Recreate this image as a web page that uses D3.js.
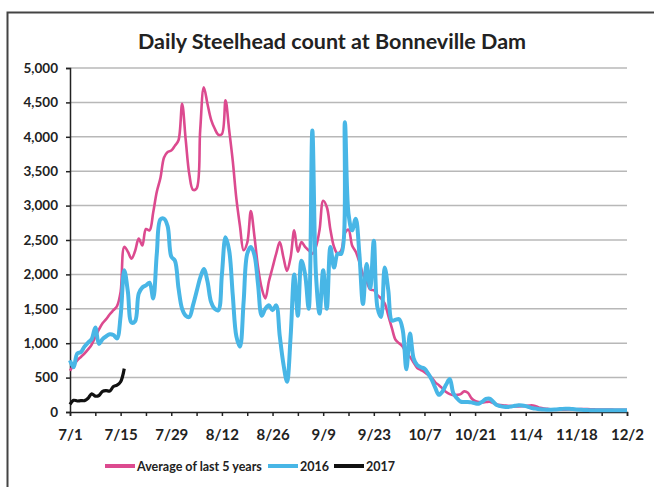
<!DOCTYPE html>
<html>
<head>
<meta charset="utf-8">
<script src="https://cdn.jsdelivr.net/npm/d3@7"></script>
<style>
  body { margin: 0; background: #fff; }
  svg text { font-family: Lato, "Open Sans", sans-serif; font-weight: bold; fill: #222; }
</style>
</head>
<body>
<div id="chart"></div>
<script>
// daily counts, day 0 = 7/1
var avg5 = [600, 680, 750, 800, 850, 910, 980, 1090, 1200, 1290,
  1350, 1420, 1480, 1540, 1750, 2400, 2330, 2230, 2340, 2520,
  2420, 2660, 2640, 2900, 3200, 3400, 3700, 3780, 3800, 3870,
  3950, 4480, 3950, 3450, 3230, 3250, 4100, 4720, 4480, 4250,
  4120, 4030, 4040, 4530, 4100, 3650, 3100, 2700, 2350, 2460,
  2920, 2550, 2100, 1800, 1650, 1900, 2100, 2300, 2470, 2250,
  2050, 2250, 2640, 2330, 2470, 2400, 2350, 2300, 2400, 2650,
  3070, 2980, 2650, 2400, 2300, 2350, 2600, 2650, 2420, 2330,
  2180, 2000, 1900, 1780, 1770, 1700, 1650, 1580, 1400, 1220,
  1050, 1000, 950, 850, 800, 720, 640, 610, 580, 540,
  500, 430, 390, 340, 290, 260, 245, 250, 260, 300,
  280, 200, 160, 145, 140, 145, 150, 130, 110, 100,
  95, 90, 85, 80, 82, 85, 90, 95, 95, 80,
  60, 50, 45, 40, 38, 36, 35, 35, 36, 38,
  40, 42, 44, 42, 40, 38, 36, 35, 34, 34,
  34, 33, 33, 32, 32];

var y2016 = [750, 650, 850, 870, 950, 1010, 1060, 1230, 990, 1060,
  1100, 1130, 1120, 1070, 1400, 2060, 1750, 1300, 1320, 1720,
  1810, 1840, 1880, 1650, 2300, 2800, 2810, 2700, 2260, 2200,
  1800, 1500, 1400, 1380, 1550, 1750, 1950, 2080, 1900, 1600,
  1500, 1480, 2000, 2540, 2350, 1700, 1100, 950, 1600, 2300,
  2400, 2280, 1850, 1400, 1500, 1550, 1480, 1550, 1100, 700,
  440, 1100, 2000, 1400, 2200, 2000, 1500, 4090, 2000, 1430,
  2060, 1500, 2400, 2100, 2300, 2300, 4210, 2880, 2640, 2810,
  2300, 1570, 2150, 1800, 2490, 1520, 1380, 2100, 1770, 1330,
  1340, 1350, 1190, 620, 1140, 780, 680, 650, 630, 560,
  470, 350, 250, 300, 400, 480, 270, 200, 150, 145,
  145, 140, 125, 120, 150, 190, 195, 150, 100, 85,
  75, 73, 80, 90, 97, 95, 85, 70, 55, 48,
  40, 35, 34, 34, 36, 40, 45, 48, 46, 42,
  38, 34, 30, 28, 26, 25, 24, 24, 24, 24,
  24, 24, 24, 24, 24];

var y2017 = [110, 170, 160, 165, 165, 200, 265, 230, 240, 300,
  310, 305, 370, 390, 440, 630];

var tickLabels = ["7/1", "7/15", "7/29", "8/12", "8/26", "9/9", "9/23",
  "10/7", "10/21", "11/4", "11/18", "12/2"];
var yTicks = [0, 500, 1000, 1500, 2000, 2500, 3000, 3500, 4000, 4500, 5000];

var seriesNames = ["Average of last 5 years", "2016", "2017"];
var seriesColors = ["#dc4a8f", "#48b6e6", "#111111"];
var seriesWidths = [2.6, 4, 3.2];

var width = 654, height = 487;
var plotLeft = 70, plotRight = 627, plotTop = 68, plotBottom = 412;

var svg = d3.select("#chart").append("svg")
  .attr("width", width)
  .attr("height", height);

// frame
svg.append("path")
  .attr("d", "M7.5,490 L7.5,12.5 L660,12.5")
  .attr("fill", "none")
  .attr("stroke", "#444")
  .attr("stroke-width", 2);

svg.append("text")
  .attr("x", 332)
  .attr("y", 49)
  .attr("text-anchor", "middle")
  .style("font-size", "21.5px")
  .text("Daily Steelhead count at Bonneville Dam");

var x = d3.scaleLinear().domain([0, 154]).range([plotLeft, plotRight]);
var y = d3.scaleLinear().domain([0, 5000]).range([plotBottom, plotTop]);

// grid
svg.append("g")
  .selectAll("line")
  .data(yTicks.slice(1))
  .enter()
  .append("line")
  .attr("x1", plotLeft)
  .attr("x2", plotRight)
  .attr("y1", (d) => y(d))
  .attr("y2", (d) => y(d))
  .attr("stroke", "#b8b8b8")
  .attr("stroke-width", 1.5);

var y_axis = d3.axisLeft(y)
  .tickValues(yTicks)
  .tickSize(4)
  .tickFormat(d3.format(","));

var gy = svg.append("g")
  .attr("transform", "translate(" + plotLeft + ",0)")
  .call(y_axis);
gy.selectAll("text").style("font-size", "13.5px").attr("x", -12);
gy.selectAll("line, path").attr("stroke", "#222").attr("stroke-width", 1.5);

var x_axis = d3.axisBottom(x)
  .tickValues(d3.range(0, 155, 7))
  .tickSize(4)
  .tickFormat((d) => (d % 14 === 0 ? tickLabels[d / 14] : ""));

var gx = svg.append("g")
  .attr("transform", "translate(0," + plotBottom + ")")
  .call(x_axis);
gx.selectAll("text").style("font-size", "15px").attr("y", 17);
gx.selectAll("line, path").attr("stroke", "#222").attr("stroke-width", 1.5);

var line = d3.line()
  .x((d, i) => x(i))
  .y((d) => y(d))
  .curve(d3.curveCatmullRom.alpha(0.5));

[avg5, y2016, y2017].forEach((s, k) => {
  svg.append("path")
    .datum(s)
    .attr("fill", "none")
    .attr("stroke", seriesColors[k])
    .attr("stroke-width", seriesWidths[k])
    .attr("stroke-linejoin", "round")
    .attr("d", line);
});

// legend
var legendX = [105, 268, 334];
seriesNames.forEach((name, k) => {
  svg.append("line")
    .attr("x1", legendX[k])
    .attr("x2", legendX[k] + 30)
    .attr("y1", 466)
    .attr("y2", 466)
    .attr("stroke", seriesColors[k])
    .attr("stroke-width", 4);
  svg.append("text")
    .attr("x", legendX[k] + 32)
    .attr("y", 470.5)
    .style("font-size", "12.5px")
    .text(name);
});
</script>
</body>
</html>
